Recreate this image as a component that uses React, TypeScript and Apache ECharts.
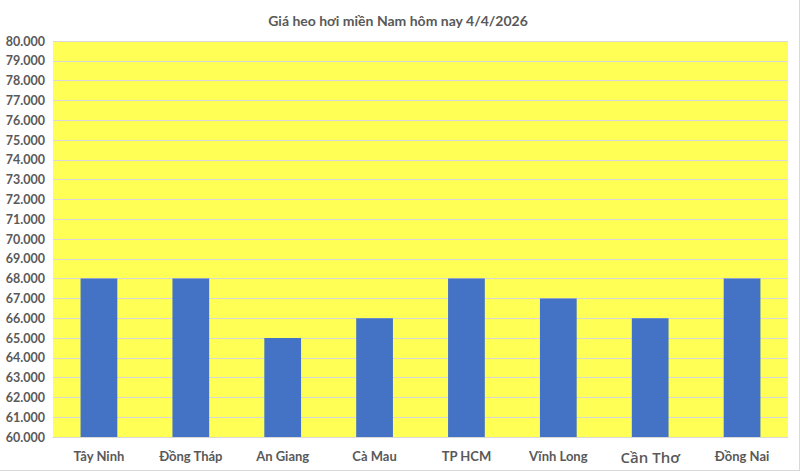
import React, { useEffect, useRef } from 'react';
import * as echarts from 'echarts';

const provinces = ['Tây Ninh', 'Đồng Tháp', 'An Giang', 'Cà Mau', 'TP HCM', 'Vĩnh Long', 'Cần Thơ', 'Đồng Nai'];
const prices = [68000, 68000, 65000, 66000, 68000, 67000, 66000, 68000];
const chartTitle = 'Giá heo hơi miền Nam hôm nay 4/4/2026';

const fontFamily = 'Lato, "Open Sans", sans-serif';

// 68000 -> "68.000"
const formatPrice = (v: number) => `${Math.floor(v / 1000)}.${String(v % 1000).padStart(3, '0')}`;

const App: React.FC = () => {
    const chartRef = useRef<HTMLDivElement>(null);

    useEffect(() => {
        document.body.style.margin = '0';
        if (!chartRef.current) return;
        const chart = echarts.init(chartRef.current, undefined, { renderer: 'svg' });

        const option: echarts.EChartsOption = {
            animation: false,
            backgroundColor: '#ffffff',
            title: {
                text: chartTitle,
                left: 'center',
                top: 8,
                textStyle: { fontSize: 14, fontWeight: 'bold', color: '#595959', fontFamily },
            },
            grid: { left: 53, right: 8, top: 41, bottom: 30, backgroundColor: '#FFFF55', show: true, borderWidth: 0 },
            xAxis: {
                type: 'category',
                data: provinces.map(p =>
                    p === 'Cần Thơ'
                        ? { value: p, textStyle: { fontSize: 15, fontWeight: 600, color: '#595959', fontFamily: '"Open Sans", sans-serif' } }
                        : p
                ),
                axisTick: { show: false },
                axisLine: { lineStyle: { color: '#d9d9d9' } },
                axisLabel: { color: '#595959', fontSize: 13, fontWeight: 'bold', fontFamily, margin: 12 },
            },
            yAxis: {
                type: 'value',
                min: 60000,
                max: 80000,
                interval: 1000,
                axisLine: { show: false },
                axisTick: { show: false },
                splitLine: { lineStyle: { color: '#d9d9d9' } },
                axisLabel: {
                    color: '#595959',
                    fontSize: 12.5,
                    fontWeight: 'bold',
                    fontFamily,
                    margin: 8,
                    formatter: formatPrice,
                },
            },
            series: [
                {
                    type: 'bar',
                    data: prices,
                    barWidth: '40%',
                    itemStyle: { color: '#4472C4' },
                },
            ],
        };

        chart.setOption(option);
        return () => chart.dispose();
    }, []);

    return (
        <div style={{ width: 800, height: 471, boxSizing: 'border-box', borderRight: '1px solid #d9d9d9', borderBottom: '1px solid #d9d9d9' }}>
            <div ref={chartRef} style={{ width: 796, height: 467 }} />
        </div>
    );
};

export default App;
